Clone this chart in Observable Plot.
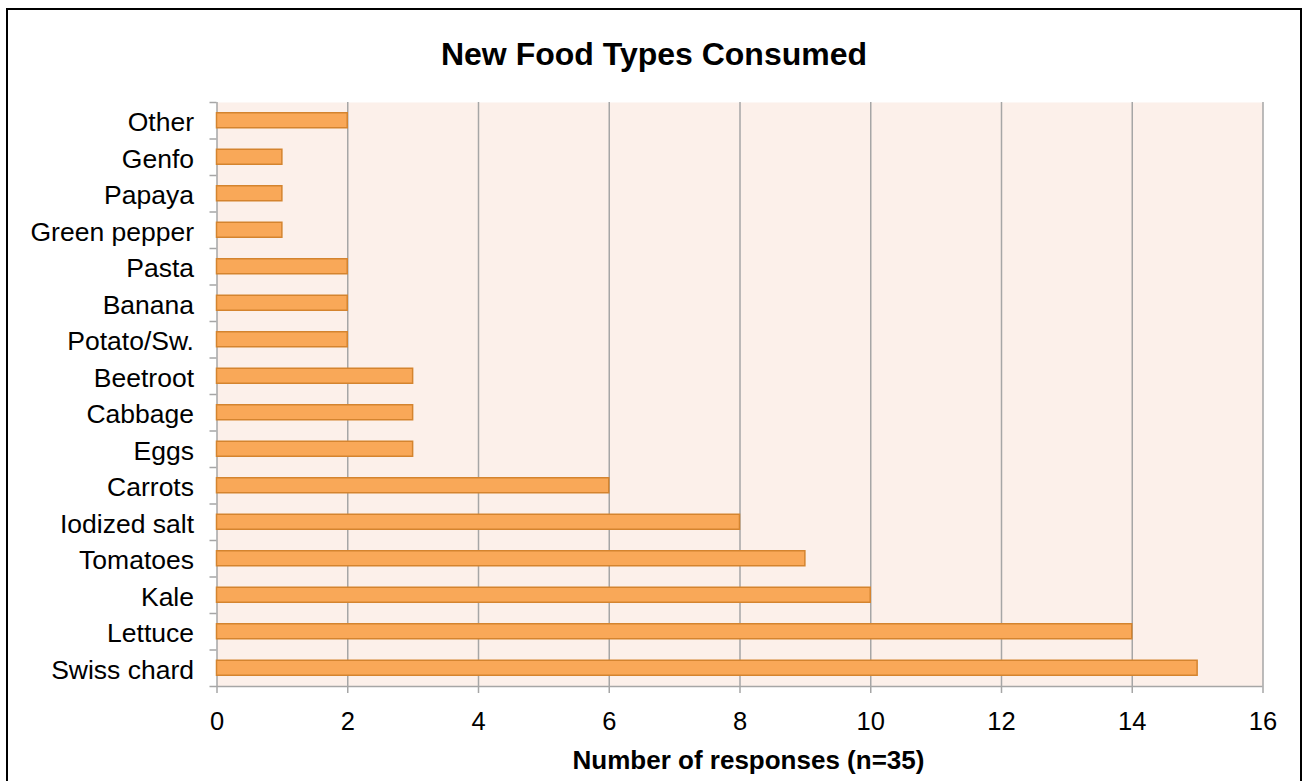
<!DOCTYPE html>
<html>
<head>
<meta charset="utf-8">
<script src="https://cdn.jsdelivr.net/npm/d3@7"></script>
<script src="https://cdn.jsdelivr.net/npm/@observablehq/plot@0.6"></script>
<style>
  html, body { margin: 0; padding: 0; background: #fff; overflow: hidden; }
  #page { position: relative; width: 1303px; height: 781px; }
  #frame {
    position: absolute; left: 6px; top: 8px; width: 1296px; height: 800px;
    box-sizing: border-box; border: 2px solid #000; border-bottom: none;
  }
  #title {
    position: absolute; left: 8px; width: 1292px; top: 38px;
    text-align: center; font: bold 32px/32px "Liberation Sans", Arial, sans-serif; color: #000;
  }
  #chart { position: absolute; left: 0; top: 0; }
</style>
</head>
<body>
<div id="page">
  <div id="frame"></div>
  <div id="title"></div>
  <div id="chart"></div>
</div>
<script>
// Foods, listed top to bottom as they appear on the chart
const foods = [
  "Other", "Genfo", "Papaya", "Green pepper", "Pasta", "Banana", "Potato/Sw.",
  "Beetroot", "Cabbage", "Eggs", "Carrots", "Iodized salt", "Tomatoes", "Kale",
  "Lettuce", "Swiss chard"
];
// Number of responses for each food
const responses = [2, 1, 1, 1, 2, 2, 2, 3, 3, 3, 6, 8, 9, 10, 14, 15];
const xTicks = [0, 2, 4, 6, 8, 10, 12, 14, 16];
const chartTitle = "New Food Types Consumed";
const xTitle = "Number of responses (n=35)";

const data = foods.map((food, i) => ({food, count: responses[i]}));

const width = 1303, height = 781;
const margin = {top: 102, right: 40.5, bottom: 95, left: 216.5};
const step = (height - margin.top - margin.bottom) / foods.length;
const grid = "#A6A6A6";

document.getElementById("title").textContent = chartTitle;

const chart = Plot.plot({
  width, height,
  marginTop: margin.top, marginRight: margin.right,
  marginBottom: margin.bottom, marginLeft: margin.left,
  style: {
    fontFamily: "'Liberation Sans', Arial, sans-serif",
    fontSize: "25.5px", color: "#000", background: "transparent", overflow: "visible"
  },
  x: {domain: [0, 16], ticks: xTicks, label: null},
  y: {domain: foods, padding: 0, round: false, label: null},
  marks: [
    // plot area background
    Plot.frame({fill: "#FCF0EA", stroke: null}),
    // vertical gridlines and the value axis line
    Plot.ruleX(xTicks, {stroke: grid, strokeWidth: 1.5}),
    // category boundary ticks on the left of the axis
    Plot.ruleY(foods, {y: d => d, x1: 0, x2: 0, insetLeft: -7, dy: -step / 2, stroke: grid, strokeWidth: 1.5}),
    // bottom axis line (closing boundary)
    Plot.ruleY(foods.slice(-1), {y: d => d, x1: 0, x2: 16, insetLeft: -7, dy: step / 2, stroke: grid, strokeWidth: 1.5}),
    Plot.barX(data, {
      x: "count", y: "food",
      fill: "#F9A858", stroke: "#D4842F", strokeWidth: 1.5,
      insetTop: (step - 15) / 2, insetBottom: (step - 15) / 2
    }),
    Plot.axisX({ticks: xTicks, tickSize: 7, tickPadding: 18, stroke: grid, strokeWidth: 1.5, label: null}),
    Plot.axisY({tickSize: 0, tickPadding: 23, dy: 2, fontSize: 26.5, label: null}),
    Plot.text([xTitle], {
      frameAnchor: "bottom", lineAnchor: "bottom", dy: 82, dx: 8.5,
      text: d => d, fontWeight: "bold", fontSize: 26, fill: "#000"
    })
  ]
});

document.getElementById("chart").appendChild(chart);
</script>
</body>
</html>
